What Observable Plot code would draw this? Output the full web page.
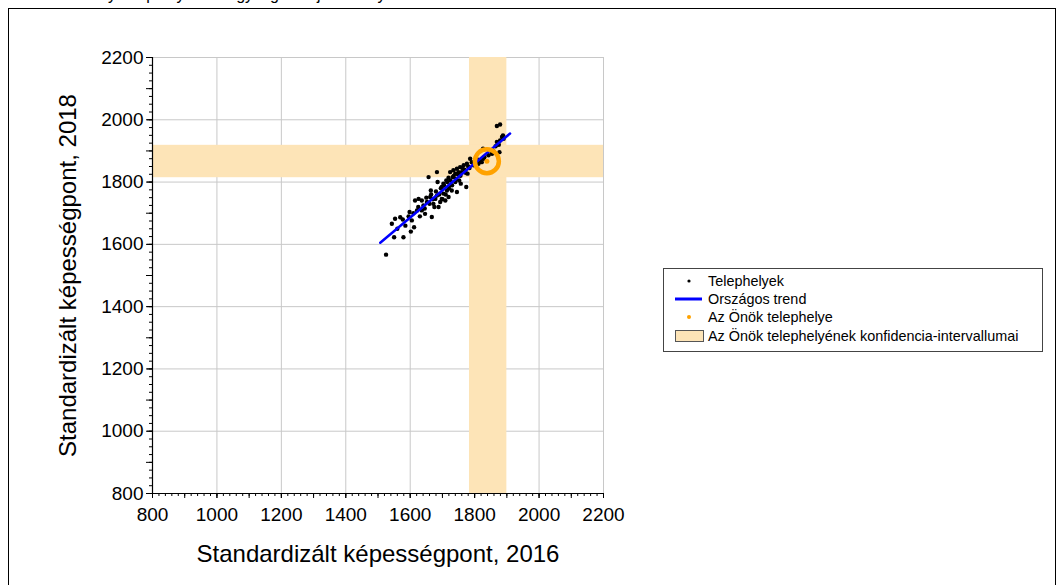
<!DOCTYPE html>
<html>
<head>
<meta charset="utf-8">
<script src="https://cdn.jsdelivr.net/npm/d3@7"></script>
<script src="https://cdn.jsdelivr.net/npm/@observablehq/plot@0.6"></script>
<style>
  html, body { margin: 0; padding: 0; background: #fff; }
  #wrap { position: relative; width: 1063px; height: 585px; overflow: hidden; font-family: "Liberation Sans", Arial, sans-serif; }
  #frame { position: absolute; left: 8px; top: 8px; width: 1048px; height: 620px; border: 1.5px solid #000; box-sizing: border-box; }
  #toptext { position: absolute; left: 20px; top: -13px; font-size: 16px; line-height: 16px; color: #000; white-space: nowrap; }
  #chart { position: absolute; left: 0; top: 0; }
  #legend { position: absolute; left: 663px; top: 268px; width: 380px; height: 84px; border: 1px solid #444; box-sizing: border-box; background: #fff; }
  .row { position: absolute; left: 0; height: 18px; width: 100%; font-size: 14.4px; line-height: 18px; }
  .row span { position: absolute; left: 44px; top: 0; }
  .row svg { position: absolute; left: 0; top: 0; }
</style>
</head>
<body>
<div id="wrap">
  <div id="toptext">Az intézmény telephelyeinek egységes teljesítménye</div>
  <div id="frame"></div>
  <div id="chart"></div>
  <div id="legend"></div>
</div>
<script>
// Telephelyek (2016, 2018)
const siteX = [1525,1550,1579,1602,1543,1553,1569,1577,1598,1605,1612,1621,1615,1626,1636,1641,1652,1636,1646,1662,
  1664,1667,1672,1678,1683,1688,1693,1698,1657,1683,1685,1698,1703,1709,1714,1719,1703,1712,1722,1719,
  1729,1724,1734,1740,1732,1745,1750,1740,1745,1755,1766,1760,1757,1774,1776,1778,1786,1791,1797,1805,
  1812,1822,1828,1826,1843,1848,1854,1869,1879,1885,1890,1877,1869,1879,
  1560,1585,1595,1610,1625,1630,1645,1650,1660,1665,1670,1675,1680,1690,1695,1700,1705,1710,1715,1720,
  1725,1730,1735,1742,1748,1752,1756,1762,1768,1772,1780,1784,1800,1810,1818,1830,1858,1865,1875,1888];
const siteY = [1567,1623,1623,1641,1666,1682,1687,1680,1704,1677,1655,1709,1741,1746,1741,1725,1736,1709,1698,1752,
  1773,1688,1730,1746,1757,1720,1736,1746,1816,1832,1800,1784,1763,1741,1773,1752,1795,1805,1789,1814,
  1773,1832,1838,1827,1816,1843,1832,1800,1768,1848,1854,1832,1795,1784,1859,1827,1875,1864,1854,1870,
  1859,1864,1875,1907,1886,1902,1891,1929,1934,1945,1939,1896,1980,1985,
  1650,1660,1690,1700,1720,1690,1715,1750,1730,1760,1745,1720,1770,1760,1780,1745,1790,1760,1800,1780,
  1805,1790,1820,1810,1825,1805,1820,1845,1840,1830,1850,1845,1860,1872,1868,1880,1900,1915,1920,1950];
// Országos trend
const trendX = [1507, 1910];
const trendY = [1605, 1956];
// Az Önök telephelye
const ownX = [1838];
const ownY = [1867];
// Konfidencia-intervallumok
const ciX = [1784, 1900];
const ciY = [1814, 1918];
// Tengelyek
const majorTicks = [800, 1000, 1200, 1400, 1600, 1800, 2000, 2200];
const xTitle = "Standardizált képességpont, 2016";
const yTitle = "Standardizált képességpont, 2018";
const legendLabels = ["Telephelyek", "Országos trend", "Az Önök telephelye", "Az Önök telephelyének konfidencia-intervallumai"];

const sites = siteX.map((x, i) => ({x, y: siteY[i]}));
const trend = trendX.map((x, i) => ({x, y: trendY[i]}));
const own = ownX.map((x, i) => ({x, y: ownY[i]}));
const minorX = d3.range(800, 2201, 20);
const midX = d3.range(800, 2201, 100);
const minorY = d3.range(800, 2201, 25);
const midY = d3.range(800, 2201, 100);

const bandColor = "#FDE4B7";
const orange = "#FFA200";

const chart = Plot.plot({
  width: 1063,
  height: 585,
  marginLeft: 152,
  marginRight: 460,
  marginTop: 57,
  marginBottom: 92,
  style: {fontFamily: "Liberation Sans, Arial, sans-serif", background: "transparent", overflow: "visible"},
  x: {domain: [800, 2200]},
  y: {domain: [800, 2200]},
  marks: [
    Plot.gridX(majorTicks, {stroke: "#c8c8c8", strokeOpacity: 1, strokeWidth: 1}),
    Plot.gridY(majorTicks, {stroke: "#c8c8c8", strokeOpacity: 1, strokeWidth: 1}),
    Plot.rect([{x1: ciX[0], x2: ciX[1]}], {x1: "x1", x2: "x2", y1: 800, y2: 2200, fill: bandColor}),
    Plot.rect([{y1: ciY[0], y2: ciY[1]}], {y1: "y1", y2: "y2", x1: 800, x2: 2200, fill: bandColor}),
    Plot.dot(sites, {x: "x", y: "y", r: 2.2, fill: "#000", stroke: "none"}),
    Plot.line(trend, {x: "x", y: "y", stroke: "#0000FF", strokeWidth: 2.5}),
    Plot.dot(own, {x: "x", y: "y", r: 12, stroke: orange, strokeWidth: 4.5, fill: "none"}),
    Plot.dot(own, {x: "x", y: "y", r: 2.5, fill: orange, stroke: "none"}),
    Plot.ruleX([800], {stroke: "#000", strokeWidth: 1.2}),
    Plot.ruleY([800], {stroke: "#000", strokeWidth: 1.2}),
    Plot.axisX(minorX, {tickSize: 3, tickFormat: () => "", stroke: "#000"}),
    Plot.axisX(midX, {tickSize: 5, tickFormat: () => "", stroke: "#000"}),
    Plot.axisX(majorTicks, {tickSize: 5, tickPadding: 9, fontSize: 19, tickFormat: d => String(d), stroke: "#000", fill: "#000"}),
    Plot.axisY(minorY, {tickSize: 3, tickFormat: () => "", stroke: "#000"}),
    Plot.axisY(midY, {tickSize: 6, tickFormat: () => "", stroke: "#000"}),
    Plot.axisY(majorTicks, {tickSize: 5, tickPadding: 4, fontSize: 19, tickFormat: d => String(d), stroke: "#000", fill: "#000"}),
    Plot.text([xTitle], {frameAnchor: "bottom", lineAnchor: "middle", textAnchor: "middle", dy: 61, fontSize: 24, fill: "#000"}),
    Plot.text([yTitle], {frameAnchor: "left", lineAnchor: "middle", textAnchor: "middle", rotate: -90, dx: -84, fontSize: 24, fill: "#000"})
  ]
});
document.getElementById("chart").appendChild(chart);

// Legend
const swatches = [
  `<svg width="44" height="18"><circle cx="25" cy="9" r="1.6" fill="#000"/></svg>`,
  `<svg width="44" height="18"><line x1="11" y1="9" x2="38" y2="9" stroke="#0000FF" stroke-width="3"/></svg>`,
  `<svg width="44" height="18"><circle cx="25" cy="9" r="2" fill="${orange}"/></svg>`,
  `<svg width="44" height="18"><rect x="11.5" y="3.5" width="28" height="11" fill="${bandColor}" stroke="#555" stroke-width="1"/></svg>`
];
const legend = document.getElementById("legend");
const rowTops = [3, 21, 39, 58];
legendLabels.forEach((label, i) => {
  const row = document.createElement("div");
  row.className = "row";
  row.style.top = rowTops[i] + "px";
  row.innerHTML = swatches[i] + `<span>${label}</span>`;
  legend.appendChild(row);
});
</script>
</body>
</html>
